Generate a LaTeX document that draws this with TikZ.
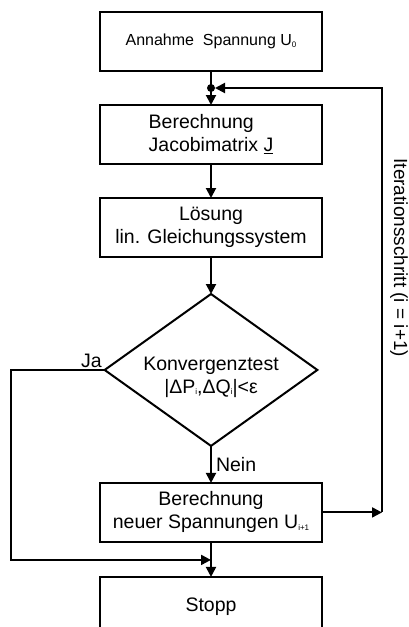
\documentclass[tikz,border=0pt]{standalone}
\usepackage{fontspec}
\setmainfont{Liberation Sans}
\usetikzlibrary{shapes.geometric, arrows.meta, positioning}
\newcommand{\lowidx}[1]{\raisebox{-1.5pt}{\fontsize{8}{8}\selectfont #1}}
\tikzset{
  stepbox/.style={rectangle, draw, line width=2pt, outer sep=0pt, minimum width=222pt, minimum height=59pt, align=center, font=\fontsize{19.5}{23}\selectfont, inner sep=2pt},
  test/.style={diamond, aspect=1.4, draw, line width=2pt, outer sep=0pt, minimum width=208pt, minimum height=148pt, align=center, font=\fontsize{19.5}{23}\selectfont, inner sep=0pt},
  arr/.style={-{Triangle[length=10pt,width=10pt]}, line width=2pt},
  lbl/.style={font=\fontsize{19.5}{23}\selectfont},
}

\begin{document}
\begin{tikzpicture}[x=1pt, y=1pt, node distance=34pt]
\useasboundingbox (0,0) rectangle (409,-627);
\clip (0,0) rectangle (409,-627);
\node[stepbox, font=\fontsize{16}{19}\selectfont] (start) at (211,-41.5) {Annahme~~Spannung U\lowidx{0}};
\node[stepbox, below=34pt of start, align=left] (jacobi) {Berechnung\\Jacobimatrix \underline{J}};
\node[stepbox, below=34pt of jacobi] (solve) {Lösung\\lin. Gleichungssystem};
\node[test, below=37pt of solve] (conv) {\rule{0pt}{28pt}Konvergenztest\\|ΔP\lowidx{i},ΔQ\lowidx{i}|<ε};
\node[stepbox, below=37pt of conv] (update) {Berechnung\\neuer Spannungen U\lowidx{i+1}};
\node[stepbox, below=35pt of update] (stop) {Stopp};

\coordinate[below=17pt of start.south] (merge);
\coordinate[below=18pt of update.south] (join);
\coordinate[right=60pt of update.east] (turn);
\coordinate (back) at (turn |- merge);

\draw[arr] (start) -- (jacobi);
\fill (merge) circle (4pt);
\draw[arr] (jacobi) -- (solve);
\draw[arr] (solve) -- (conv);
\draw[arr] (conv) -- node[lbl, right, inner sep=4pt] {Nein} (update);
\draw[arr] (conv.west) -- node[lbl, above, pos=0.14, inner sep=1pt] {Ja} ++(-94pt,0) |- (join);
\draw[arr] (update) -- (stop);

% Rueckfuehrung
\draw[arr] (update.east) -- (turn);
\draw[arr, shorten >=4pt] (turn) -- (back) -- (merge);
\coordinate[right=8pt of back] (itop);
\coordinate[right=8pt of turn] (ibot);
\path (itop) -- node[lbl, font=\fontsize{19}{23}\selectfont, rotate=-90, anchor=south, inner sep=0pt, pos=0.40] (iter) {Iterationsschritt (i = i+1)} (ibot);
\end{tikzpicture}
\end{document}
